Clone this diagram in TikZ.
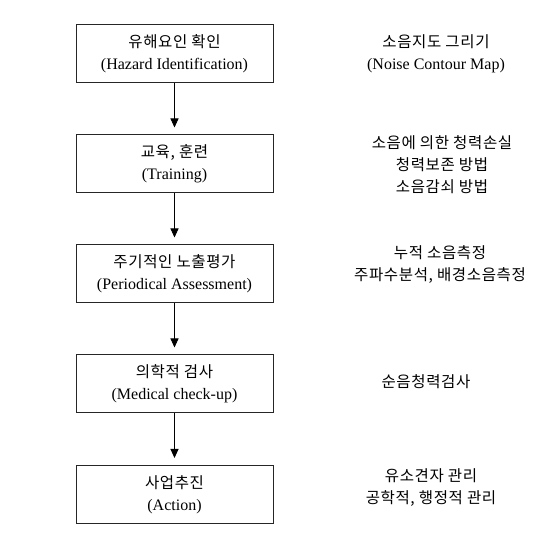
\documentclass[tikz,border=0pt]{standalone}
\usepackage{fontspec}
\setmainfont{Liberation Serif}
\newfontfamily\kr[Scale=0.97,LetterSpace=4]{Noto Sans CJK KR}
\usetikzlibrary{arrows.meta}
\begin{document}
\begin{tikzpicture}[x=1pt,y=-1pt,
  stepbox/.style={draw=black!85,line width=1pt,minimum width=197pt,minimum height=58pt,
    align=center,inner sep=0pt,font=\fontsize{16}{22}\selectfont},
  note/.style={align=center,inner sep=0pt,font=\fontsize{16}{22}\selectfont},
  flow/.style={line width=0.9pt,-{Triangle[width=8pt,length=9pt]},shorten >=7pt}]
\useasboundingbox (0,0) rectangle (550,545);
\node[stepbox] (b1) at (174.5,54) {{\kr 유해요인 확인}\\(Hazard Identification)};
\node[stepbox] (b2) at (174.5,164) {{\kr 교육, 훈련}\\(Training)};
\node[stepbox] (b3) at (174.5,274) {{\kr 주기적인 노출평가}\\(Periodical Assessment)};
\node[stepbox] (b4) at (174.5,384) {{\kr 의학적 검사}\\(Medical check-up)};
\node[stepbox] (b5) at (174.5,494.5) {{\kr 사업추진}\\(Action)};
\draw[flow] (b1) -- (b2);
\draw[flow] (b2) -- (b3);
\draw[flow] (b3) -- (b4);
\draw[flow] (b4) -- (b5);
\node[note] (n1) at (436,54) {{\kr 소음지도 그리기}\\(Noise Contour Map)};
\node[note] (n2) at (442,165) {\kr 소음에 의한 청력손실\\\kr 청력보존 방법\\\kr 소음감쇠 방법};
\node[note] (n3) at (440,265) {\kr 누적 소음측정\\\kr 주파수분석, 배경소음측정};
\node[note] (n4) at (426,382) {\kr 순음청력검사};
\node[note] (n5) at (431,487.5) {\kr 유소견자 관리\\\kr 공학적, 행정적 관리};
\end{tikzpicture}
\end{document}
